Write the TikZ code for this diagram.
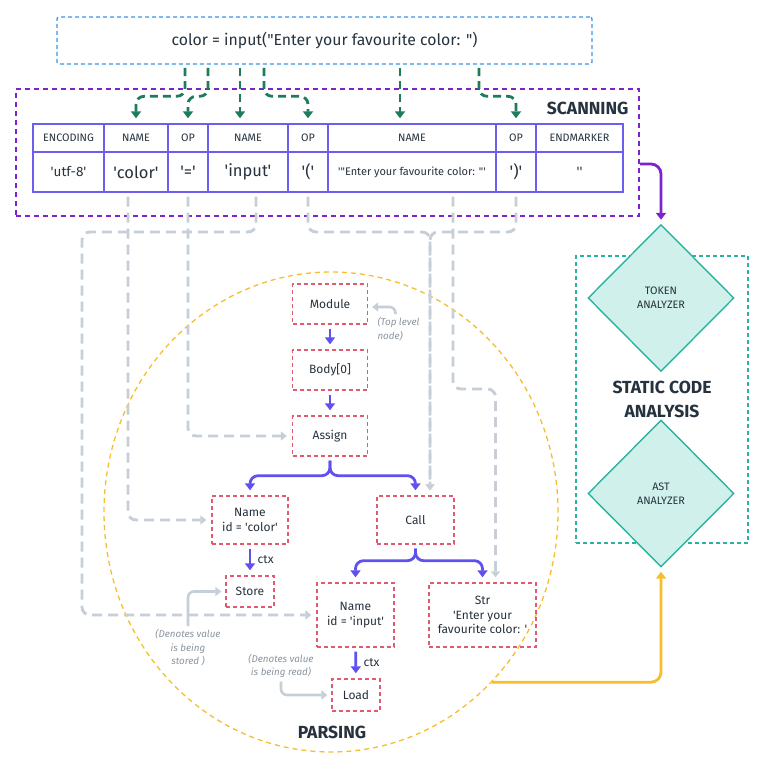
\documentclass[tikz,border=0pt]{standalone}
\usepackage{fontspec}
\setmainfont{Fira Sans}[Ligatures=TeXOff]
\usepackage{xcolor}
\usepackage{tikz}
\definecolor{astInk}{HTML}{26323D}
\definecolor{astNote}{HTML}{8A94A0}
\definecolor{astBlue}{HTML}{3A97E8}
\definecolor{astPurple}{HTML}{7E22CE}
\definecolor{astTable}{HTML}{6E5EF0}
\definecolor{astGreen}{HTML}{1E7B5C}
\definecolor{astGrey}{HTML}{C6CFD8}
\definecolor{astRed}{HTML}{E05A72}
\definecolor{astViolet}{HTML}{6150F0}
\definecolor{astYellow}{HTML}{F6BE2C}
\definecolor{astTeal}{HTML}{2BB3A0}
\definecolor{astTealFill}{HTML}{D0F0EB}
\usetikzlibrary{arrows.meta,positioning,shapes.geometric}

\begin{document}
\begin{tikzpicture}[
  x=1pt, y=-1pt,
  font=\fontsize{12}{14.5}\selectfont,
  text=astInk,
  codebox/.style={draw=astBlue, line width=1.3pt, dash pattern=on 4pt off 3pt, rounded corners=2pt, minimum width=535pt, minimum height=47pt, font=\fontsize{15.8}{18}\selectfont},
  scanbox/.style={draw=astPurple, line width=1.5pt, dash pattern=on 5pt off 4pt, minimum width=623pt, minimum height=127pt},
  hcell/.style={draw=astTable, line width=1.4pt, minimum height=28pt, inner sep=0pt, font=\fontsize{10.8}{12}\selectfont},
  vcell/.style={draw=astTable, line width=1.4pt, minimum height=40pt, inner sep=0pt, font=\fontsize{16.5}{18}\selectfont},
  zonetitle/.style={font=\fontsize{17.5}{24}\selectfont\bfseries, align=center},
  scabox/.style={draw=astTeal, line width=1.3pt, dash pattern=on 4pt off 3pt, minimum width=172pt, minimum height=287pt},
  analyzer/.style={diamond, draw=astTeal, line width=1.4pt, fill=astTealFill, minimum width=146pt, minimum height=147pt, inner sep=0pt, align=center, font=\fontsize{10.8}{14}\selectfont},
  parsezone/.style={ellipse, draw=astYellow, line width=1.3pt, dash pattern=on 5pt off 4pt, minimum width=454pt, minimum height=480pt},
  astnode/.style={draw=astRed, line width=1.4pt, dash pattern=on 4pt off 3pt, inner sep=0pt, align=center},
  treeedge/.style={draw=astViolet, line width=2.8pt, rounded corners=8pt, -{Triangle[length=7pt,width=10pt]}, shorten <=4pt, shorten >=5pt},
  lexarrow/.style={draw=astGreen, line width=2.8pt, dash pattern=on 8pt off 5pt, rounded corners=8pt, -{Triangle[length=7pt,width=10pt]}, shorten >=5pt},
  tokenfeed/.style={draw=astGrey, line width=2.9pt, dash pattern=on 10pt off 6pt, rounded corners=8pt, -{Triangle[length=6pt,width=9pt]}, shorten <=4pt, shorten >=5pt},
  stageflow/.style={line width=2.8pt, rounded corners=10pt, -{Triangle[length=7pt,width=10pt]}, shorten >=4pt},
  hint/.style={draw=astGrey, line width=2.6pt, rounded corners=6pt, -{Triangle[length=6pt,width=9pt]}, shorten >=4pt},
  hinttext/.style={font=\fontsize{9.8}{13.5}\selectfont\itshape, text=astNote, align=center}
]
\useasboundingbox (0,0) rectangle (764,768);

% Source line
\node[codebox] (code) at (324.5,40.5) {color = input("Enter your favourite color: ")};

% Scanning
\node[scanbox] (scanZone) at (327.5,152.5) {};
\node[zonetitle, anchor=east] (scanTitle) at (632,108) {SCANNING};

\node[hcell, minimum width=71pt] (hEnc) at (68.5,138) {ENCODING};
\node[hcell, minimum width=64pt] (hColor) at (136,138) {NAME};
\node[hcell, minimum width=40pt] (hEq) at (188,138) {OP};
\node[hcell, minimum width=80pt] (hInput) at (248,138) {NAME};
\node[hcell, minimum width=40pt] (hLParen) at (308,138) {OP};
\node[hcell, minimum width=168pt] (hString) at (412,138) {NAME};
\node[hcell, minimum width=40pt] (hRParen) at (516,138) {OP};
\node[hcell, minimum width=87pt] (hEnd) at (579.5,138) {ENDMARKER};

\node[vcell, minimum width=71pt, font=\fontsize{13.5}{15}\selectfont] (vEnc) at (68.5,172) {'utf-8'};
\node[vcell, minimum width=64pt] (vColor) at (136,172) {'color'};
\node[vcell, minimum width=40pt] (vEq) at (188,172) {'='};
\node[vcell, minimum width=80pt] (vInput) at (248,172) {'input'};
\node[vcell, minimum width=40pt] (vLParen) at (308,172) {'('};
\node[vcell, minimum width=168pt, font=\fontsize{11}{12}\selectfont] (vString) at (412,172) {'"Enter your favourite color: "'};
\node[vcell, minimum width=40pt] (vRParen) at (516,172) {')'};
\node[vcell, minimum width=87pt, font=\fontsize{13.5}{15}\selectfont] (vEnd) at (579.5,172) {''};

% Source -> tokens
\coordinate (srcColor) at (185,68);
\coordinate (srcEq) at (208,68);
\coordinate (srcInput) at (240,68);
\coordinate (srcLParen) at (264,68);
\coordinate (srcString) at (400,68);
\coordinate (srcRParen) at (479,68);
\draw[lexarrow] (srcColor) |- ([yshift=27pt]hColor.north) -- (hColor.north);
\draw[lexarrow] (srcEq) |- ([yshift=27pt]hEq.north) -- (hEq.north);
\draw[lexarrow] (srcInput) -- (srcInput |- hInput.north);
\draw[lexarrow] (srcLParen) |- ([yshift=27pt]hLParen.north) -- (hLParen.north);
\draw[lexarrow] (srcString) -- (srcString |- hString.north);
\draw[lexarrow] (srcRParen) |- ([yshift=27pt]hRParen.north) -- (hRParen.north);

% Static code analysis
\node[scabox, zonetitle] (sca) at (662,399.5) {STATIC CODE\\ANALYSIS};
\node[analyzer] (tokenAn) at (661,298) {TOKEN\\ANALYZER};
\node[analyzer] (astAn) at (661,493.5) {AST\\ANALYZER};

% Parsing
\node[parsezone] (parseZone) at (331,512) {};
\node[zonetitle] (parseTitle) at (332,732) {PARSING};

\node[astnode, minimum width=75pt, minimum height=40pt] (module) at (330,304) {Module};
\node[astnode, minimum width=75pt, minimum height=40pt] (body) at (330,370) {Body[0]};
\node[astnode, minimum width=75pt, minimum height=40pt] (assign) at (330,436) {Assign};
\node[astnode, minimum width=76pt, minimum height=48pt] (nameColor) at (250,520) {Name\\id = 'color'};
\node[astnode, minimum width=77pt, minimum height=48pt] (call) at (415.5,520) {Call};
\node[astnode, minimum width=48pt, minimum height=31pt] (store) at (250,591.5) {Store};
\node[astnode, minimum width=77pt, minimum height=64pt] (nameInput) at (355.5,615) {Name\\id = 'input'};
\node[astnode, minimum width=107pt, minimum height=64pt] (str) at (482.5,615) {Str\\'Enter your\\favourite color: '};
\node[astnode, minimum width=48pt, minimum height=32pt] (load) at (356,695) {Load};

\draw[treeedge] (module) -- (body);
\draw[treeedge] (body) -- (assign);
\draw[treeedge] (assign.south) |- ([yshift=-19pt]assign.south) -| (nameColor.north);
\draw[treeedge] (assign.south) |- ([yshift=-19pt]assign.south) -| (call.north);
\draw[treeedge] (call.south) |- ([yshift=-16pt]call.south) -| (nameInput.north);
\draw[treeedge] (call.south) |- ([yshift=-16pt]call.south) -| (str.north);
\draw[treeedge] (nameColor) -- (store) node[midway, right, xshift=3pt] {ctx};
\draw[treeedge] (nameInput) -- (load) node[midway, right, xshift=3pt] {ctx};

% Tokens -> tree
\coordinate (leftRail) at (82,232);
\coordinate (callJoin) at (430,232);
\coordinate (strBend) at (453,389);
\draw[tokenfeed] ([xshift=-8pt]vColor.south) |- (nameColor.west);
\draw[tokenfeed] (vEq.south) |- (assign.west);
\draw[tokenfeed] ([xshift=8pt]vInput.south) |- (leftRail) |- (nameInput.west);
\draw[tokenfeed] (vLParen.south) |- (callJoin) -- (callJoin |- call.north);
\draw[tokenfeed] (vRParen.south) |- (callJoin) -- (callJoin |- call.north);
\draw[tokenfeed] ([xshift=41pt]vString.south) -- (strBend) -| ([xshift=13pt]str.north);

% Notes
\node[hinttext, align=left, anchor=north west] (topNote) at (374,314) {(Top level\\node)};
\node[hinttext] (storeNote) at (188,648) {(Denotes value\\is being\\stored )};
\node[hinttext] (loadNote) at (281,666) {(Denotes value\\is being read)};
\draw[hint] ([xshift=-3pt]topNote.north) |- ([yshift=-3pt]module.east);
\draw[hint] (storeNote.north) |- (store.west);
\draw[hint] (loadNote.south) |- (load.west);

% Stages
\draw[stageflow, astPurple] ([yshift=-11.5pt]scanZone.east) -| (tokenAn.north);
\draw[stageflow, astYellow] (parseZone.south east) -| (astAn.south);

\end{tikzpicture}
\end{document}
